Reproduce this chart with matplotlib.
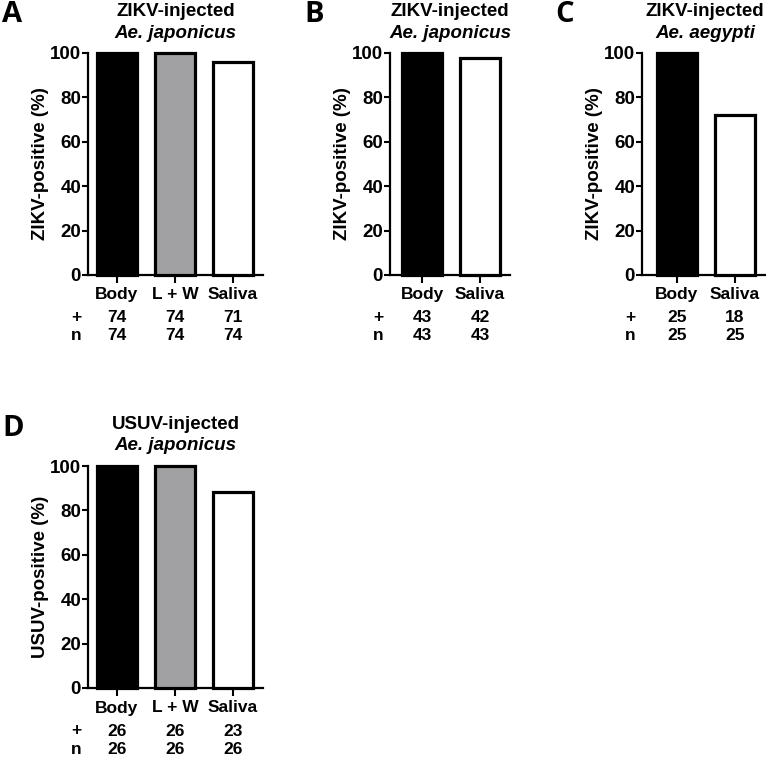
import matplotlib
matplotlib.use('Agg')
import matplotlib.pyplot as plt

plt.rcParams['font.family'] = ['Liberation Sans', 'DejaVu Sans']
plt.rcParams['font.weight'] = 'bold'
plt.rcParams['axes.labelweight'] = 'bold'

# -----------------------------
# Data (positive counts and totals per tissue)
# -----------------------------
a_cats = ['Body', 'L + W', 'Saliva']
a_pos = [74, 74, 71]
a_n = [74, 74, 74]

b_cats = ['Body', 'Saliva']
b_pos = [43, 42]
b_n = [43, 43]

c_cats = ['Body', 'Saliva']
c_pos = [25, 18]
c_n = [25, 25]

d_cats = ['Body', 'L + W', 'Saliva']
d_pos = [26, 26, 23]
d_n = [26, 26, 26]

cat_colors = {'Body': 'black', 'L + W': '#a1a1a4', 'Saliva': 'white'}

# -----------------------------
# Figure / layout helpers (pixel based)
# -----------------------------
W, H = 766, 757
fig = plt.figure(figsize=(W / 100, H / 100), dpi=100)
UNIT = 58.0  # pixels per category


def panel(letter, virus, species, cats, pos, n, left, top, right, first_bar,
          letter_x, ylab):
    ax = fig.add_axes([left / W, 1 - (top + 222) / H, (right - left) / W, 222 / H])
    pct = [p / t * 100 for p, t in zip(pos, n)]
    x = list(range(len(cats)))
    bars = ax.bar(x, pct, width=0.7, color=[cat_colors[c] for c in cats],
                  edgecolor='black', linewidth=2.3, zorder=3)
    for b in bars:
        b.set_clip_on(False)
    x0 = -(first_bar - left) / UNIT
    ax.set_xlim(x0, x0 + (right - left) / UNIT)
    ax.set_ylim(0, 100)
    ax.set_yticks([0, 20, 40, 60, 80, 100])
    ax.set_xticks(x)
    ax.set_xticklabels(cats, fontsize=12.5)
    ax.tick_params(axis='y', labelsize=13.5, width=1.5, length=4, pad=1)
    ax.tick_params(axis='x', width=1.5, length=6, pad=3)
    for s in ['top', 'right']:
        ax.spines[s].set_visible(False)
    for s in ['left', 'bottom']:
        ax.spines[s].set_linewidth(1.6)
    ax.set_ylabel(ylab, fontsize=13.5, fontweight='bold', labelpad=1)

    # counts below the axis
    for row, vals, dy in [('+', pos, 43), ('n', n, 61)]:
        ax.annotate(row, xy=(x0 - 0.2, 0), xycoords=('data', 'axes fraction'),
                    xytext=(0, -dy), textcoords='offset pixels',
                    ha='center', va='center', fontsize=12.5)
        for i, v in enumerate(vals):
            ax.annotate(str(v), xy=(i, 0), xycoords=('data', 'axes fraction'),
                        xytext=(0, -dy), textcoords='offset pixels',
                        ha='center', va='center', fontsize=12.5)

    cx = (left + right) / 2 / W
    fig.text(cx, 1 - (top - 42) / H, virus + '-injected', ha='center',
             va='center', fontsize=13.5)
    fig.text(cx, 1 - (top - 20) / H, species, ha='center', va='center',
             fontsize=13.5, style='italic')
    fig.text(letter_x / W, 1 - (top - 38) / H, letter, ha='left', va='center',
             fontsize=21, family=['Open Sans', 'DejaVu Sans'], weight='bold')
    return ax


panel('A', 'ZIKV', 'Ae. japonicus', a_cats, a_pos, a_n,
      88, 53, 263, 117, 2, 'ZIKV-positive (%)')
panel('B', 'ZIKV', 'Ae. japonicus', b_cats, b_pos, b_n,
      390, 53, 510, 422, 304, 'ZIKV-positive (%)')
panel('C', 'ZIKV', 'Ae. aegypti', c_cats, c_pos, c_n,
      642, 53, 768, 677, 555, 'ZIKV-positive (%)')
panel('D', 'USUV', 'Ae. japonicus', d_cats, d_pos, d_n,
      88, 466, 263, 117, 2, 'USUV-positive (%)')

fig.savefig('out.png', dpi=100)
